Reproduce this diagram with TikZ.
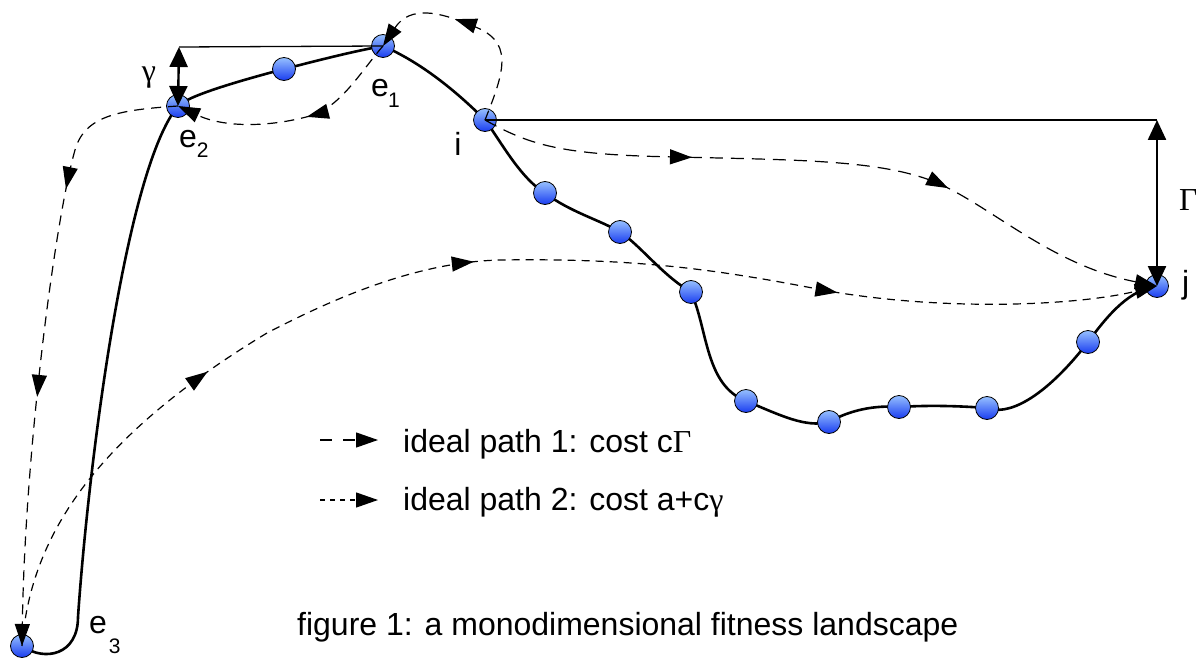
\documentclass[tikz,border=0pt]{standalone}
\usepackage{fontspec}
\setmainfont{Liberation Sans}
\newfontfamily\greekserif{Liberation Serif}
\usetikzlibrary{arrows.meta,decorations.markings,backgrounds}

\definecolor{sitetop}{RGB}{150,192,255}
\definecolor{sitebot}{RGB}{25,60,240}

% filled arrow head used in the middle of the walks
\newcommand\midtri{\arrow{Triangle[length=22pt,width=15pt]}}
% letter e with a lowered index
\newcommand\esub[3]{e\kern#2\raisebox{-#3}{\fontsize{21}{21}\selectfont #1}}

\tikzset{
  site/.style={circle, draw=black, line width=0.8pt, minimum size=23pt,
    inner sep=0pt, top color=sitetop, bottom color=sitebot},
  land/.style={line width=2.6pt, line cap=round},
  ref/.style={line width=1.3pt},
  gapbar/.style={line width=2.4pt,
    {Triangle[length=20pt,width=18pt]}-{Triangle[length=20pt,width=18pt]}},
  tipped/.style={line width=1.2pt, -{Triangle[length=22pt,width=15pt]}},
  walk/.style={tipped, dash pattern=on 10pt off 7pt},
  routeone/.style={tipped, dash pattern=on 13pt off 8pt},
  routetwo/.style={tipped, dash pattern=on 8pt off 6pt},
  keyone/.style={tipped, dash pattern=on 12pt off 11pt},
  keytwo/.style={tipped, dash pattern=on 5pt off 5pt},
  txt/.style={inner sep=0pt, font=\fontsize{32}{36}\selectfont},
  greek/.style={inner sep=0pt, font=\fontsize{32}{36}\selectfont\greekserif},
}

\begin{document}
\begin{tikzpicture}[x=1pt,y=-1pt]
\useasboundingbox (0,0) rectangle (1196,658);

% sites of the landscape
\node[site] (e3) at (22,646) {};
\node[site] (e2) at (178,106) {};
\node[site] (m1) at (284,69) {};
\node[site] (e1) at (383,46) {};
\node[site] (i)  at (485,120) {};
\node[site] (c1) at (545,193) {};
\node[site] (c2) at (620,232) {};
\node[site] (c3) at (691,292) {};
\node[site] (c4) at (746,401) {};
\node[site] (c5) at (829,422) {};
\node[site] (c6) at (899,407) {};
\node[site] (c7) at (987,408) {};
\node[site] (c8) at (1088,342) {};
\node[site] (j)  at (1157,286) {};

\coordinate (gtop) at (179,47);
\coordinate (Gtop) at (1157,120);

% the fitness landscape itself, under the sites
\begin{pgfonlayer}{background}
\draw[land] (e3.center) .. controls (45,662) and (78,655) .. (78,617)
  .. controls (88,470) and (125,170) .. (e2.center)
  .. controls (188,96) and (235,82) .. (m1.center)
  .. controls (320,60) and (350,52) .. (e1.center)
  .. controls (420,62) and (455,90) .. (i.center)
  .. controls (500,140) and (520,178) .. (c1.center)
  .. controls (570,212) and (600,220) .. (c2.center)
  .. controls (640,245) and (662,275) .. (c3.center)
  .. controls (708,330) and (705,385) .. (c4.center)
  .. controls (780,415) and (805,428) .. (c5.center)
  .. controls (850,410) and (875,405) .. (c6.center)
  .. controls (930,405) and (960,406) .. (c7.center)
  .. controls (1015,418) and (1055,385) .. (c8.center)
  .. controls (1110,312) and (1130,290) .. (j.center);
\end{pgfonlayer}

% height references
\draw[ref] (gtop) -- (e1.center);
\draw[ref] (i.center) -- (Gtop);
\draw[gapbar] (gtop) -- (e2.center);
\draw[gapbar] (Gtop) -- (j.center);

% walk i -> e1 -> e2 -> e3
\draw[walk, decoration={markings, mark=at position 130pt with {\midtri}},
  postaction={decorate}]
  (i.center) .. controls (505,70) and (515,40) .. (470,25)
  .. controls (440,12) and (410,5) .. (e1.center);
\draw[walk, decoration={markings, mark=at position 106pt with {\midtri}},
  postaction={decorate}]
  (e1.center) .. controls (362,70) and (340,108) .. (310,116)
  .. controls (270,127) and (225,128) .. (e2.center);
\draw[walk, decoration={markings, mark=at position 160pt with {\midtri},
  mark=at position 370pt with {\midtri}}, postaction={decorate}]
  (e2.center) .. controls (120,110) and (85,115) .. (75,150)
  .. controls (55,220) and (25,450) .. (e3.center);

% walk e3 -> j
\draw[routetwo, decoration={markings, mark=at position 343pt with {\midtri},
  mark=at position 634pt with {\midtri}, mark=at position 1000pt with {\midtri}},
  postaction={decorate}]
  (e3.center) .. controls (30,540) and (90,440) .. (267,333)
  .. controls (340,295) and (420,262) .. (500,260)
  .. controls (640,258) and (720,270) .. (828,291)
  .. controls (950,312) and (1080,305) .. (j.center);

% walk i -> j
\draw[routeone, decoration={markings, mark=at position 213pt with {\midtri},
  mark=at position 473pt with {\midtri}}, postaction={decorate}]
  (i.center) .. controls (530,145) and (560,155) .. (677,157)
  .. controls (800,160) and (880,160) .. (935,182)
  .. controls (990,205) and (1050,265) .. (j.center);

% labels
\node[greek, anchor=base] (lgam) at (149,82) {γ};
\node[greek, anchor=base west] (lGam) at (1179,210) {Γ};
\node[txt, anchor=base west] (le1) at (371,97) {\esub{1}{-1pt}{11pt}};
\node[txt, anchor=base west] (le2) at (179,147) {\esub{2}{0pt}{10pt}};
\node[txt, anchor=base west] (le3) at (89,633) {\esub{3}{2pt}{20pt}};
\node[txt, anchor=base] (li) at (458,155) {i};
\node[txt, anchor=base west] (lj) at (1182,293) {j};

% key
\coordinate (k1a) at (320,440);
\coordinate (k1b) at (378,440);
\coordinate (k2a) at (320,500);
\coordinate (k2b) at (378,500);
\draw[keyone] (k1a) -- (k1b);
\draw[keytwo] (k2a) -- (k2b);
\node[txt, anchor=base west] (t1) at (403,452) {ideal path 1: cost c{\greekserif Γ}};
\node[txt, anchor=base west] (t2) at (403,510) {ideal path 2: cost a+c{\greekserif γ}};
\node[txt, anchor=base west] (cap) at (297,635) {figure 1: a monodimensional fitness landscape};
\end{tikzpicture}
\end{document}
